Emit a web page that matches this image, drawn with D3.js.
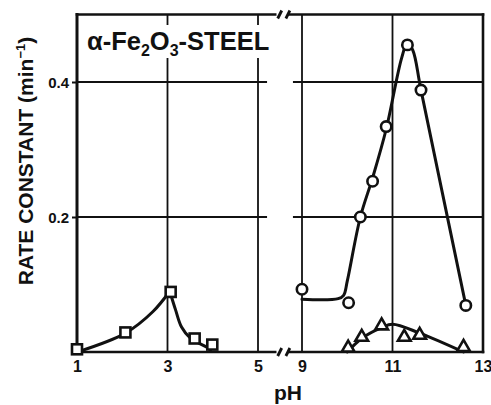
<!DOCTYPE html>
<html>
<head>
<meta charset="utf-8">
<script src="https://cdn.jsdelivr.net/npm/d3@7"></script>
<style>
  html, body { margin: 0; padding: 0; background: #fff; }
  svg { display: block; }
  text { font-family: "Liberation Sans", Arial, sans-serif; font-weight: bold; fill: #111; }
</style>
</head>
<body>
<svg id="chart" width="491" height="405"></svg>
<script>
// Acid range (squares)
const pHSquares = [1.0, 2.07, 3.07, 3.6, 3.99];
const kSquares  = [0.004, 0.029, 0.089, 0.020, 0.011];
// Fitted curve through the acid-range points (rising branch, falling branch)
const fitSqUpPH   = [1.05, 2.07, 2.68, 3.05];
const fitSqUpK    = [0.001, 0.028, 0.060, 0.090];
const fitSqDownPH = [3.05, 3.18, 3.31, 3.5, 3.87, 3.95];
const fitSqDownK  = [0.090, 0.062, 0.037, 0.021, 0.007, 0.003];

// Alkaline range (circles)
const pHCircles = [9.0, 10.03, 10.29, 10.56, 10.86, 11.33, 11.63, 12.62];
const kCircles  = [0.093, 0.073, 0.200, 0.253, 0.334, 0.455, 0.388, 0.069];
const fitCirPH  = [9.0, 9.8, 9.92, 10.0, 10.29, 10.56, 10.86, 11.2, 11.33, 11.45, 11.63, 12.62];
const fitCirK   = [0.078, 0.079, 0.084, 0.105, 0.200, 0.258, 0.330, 0.435, 0.458, 0.447, 0.388, 0.069];

// Alkaline range (triangles)
const pHTriangles = [10.02, 10.32, 10.76, 11.26, 11.6, 12.57];
const kTriangles  = [0.006, 0.022, 0.039, 0.022, 0.025, 0.007];
const fitTriPH = [10.0, 10.32, 10.76, 11.0, 11.6, 12.57];
const fitTriK  = [0.000, 0.020, 0.036, 0.041, 0.028, 0.000];

// Axis ticks
const yTicks = [0.2, 0.4];
const xTicksLow  = [1, 3, 5];
const xTicksHigh = [9, 11, 13];

const svg = d3.select("#chart");

const y = d3.scaleLinear().domain([0, 0.5]).range([352, 14.5]);
const xL = d3.scaleLinear().domain([1, 5]).range([77, 258]);
const xR = d3.scaleLinear().domain([9, 13]).range([302, 483]);

const gridColor = "#111";

// --- Grid lines ---
const grid = svg.append("g").attr("stroke", gridColor).attr("stroke-width", 1.8);
// horizontal
yTicks.forEach(v => {
  grid.append("line").attr("x1", xL(1)).attr("x2", xL(5.2)).attr("y1", y(v)).attr("y2", y(v));
  grid.append("line").attr("x1", xR(8.8)).attr("x2", xR(13)).attr("y1", y(v)).attr("y2", y(v));
});
// vertical
[3, 5].forEach(v => grid.append("line").attr("x1", xL(v)).attr("x2", xL(v)).attr("y1", y(0)).attr("y2", y(0.5)));
[9, 11].forEach(v => grid.append("line").attr("x1", xR(v)).attr("x2", xR(v)).attr("y1", y(0)).attr("y2", y(0.5)));

// --- Frame with axis breaks ---
const frame = svg.append("g").attr("stroke", "#111").attr("stroke-width", 2.6).attr("fill", "none")
  .attr("stroke-linecap", "square");
[0, 0.5].forEach(v => {
  frame.append("line").attr("x1", xL(1)).attr("x2", xL(5.38)).attr("y1", y(v)).attr("y2", y(v));
  frame.append("line").attr("x1", xR(8.7)).attr("x2", xR(13)).attr("y1", y(v)).attr("y2", y(v));
  // break marks "//"
  const bx = [xL(5.48), xL(5.66)];
  bx.forEach(cx => {
    frame.append("line").attr("x1", cx - 2).attr("x2", cx + 2)
      .attr("y1", y(v) + 4).attr("y2", y(v) - 4).attr("stroke-width", 2.8).attr("stroke-linecap", "butt");
  });
});
frame.append("line").attr("x1", xL(1)).attr("x2", xL(1)).attr("y1", y(0)).attr("y2", y(0.5)).attr("stroke-width", 3);
frame.append("line").attr("x1", xR(13)).attr("x2", xR(13)).attr("y1", y(0)).attr("y2", y(0.5));

// --- Y axis ticks and labels ---
const yAxis = d3.axisLeft(y).tickValues(yTicks).tickSize(5).tickPadding(3).tickFormat(d3.format(".1f"));
const gy = svg.append("g").attr("transform", `translate(${xL(1)},0)`).call(yAxis);
gy.select(".domain").remove();
gy.selectAll(".tick line").attr("stroke", "#111").attr("stroke-width", 2);
gy.selectAll(".tick text").attr("font-size", 15).attr("font-family", "Liberation Sans, Arial, sans-serif")
  .attr("font-weight", "bold").attr("fill", "#111").attr("dy", "0.35em");

// --- X axis labels ---
function xAxisFor(scale, ticks) {
  const ax = d3.axisBottom(scale).tickValues(ticks).tickSize(0).tickPadding(9).tickFormat(d3.format("d"));
  const g = svg.append("g").attr("transform", `translate(0,${y(0)})`).call(ax);
  g.select(".domain").remove();
  g.selectAll(".tick text").attr("font-size", 16).attr("font-family", "Liberation Sans, Arial, sans-serif")
    .attr("font-weight", "bold").attr("fill", "#111");
}
xAxisFor(xL, xTicksLow);
xAxisFor(xR, xTicksHigh);

// --- Axis titles ---
svg.append("text").attr("x", 288).attr("y", 400).attr("text-anchor", "middle")
  .attr("font-size", 21).text("pH");

const yt = svg.append("text")
  .attr("transform", "translate(33,161) rotate(-90)")
  .attr("text-anchor", "middle").attr("font-size", 21);
yt.append("tspan").text("RATE CONSTANT (min");
yt.append("tspan").attr("font-size", 13).attr("dy", -8).text("−1");
yt.append("tspan").attr("dy", 8).text(")");

// --- Title box ---
svg.append("rect").attr("x", 82).attr("y", 25).attr("width", 194).attr("height", 33).attr("fill", "#fff");
const title = svg.append("text").attr("x", 87).attr("y", 50).attr("font-size", 25.5);
title.append("tspan").text("α-Fe");
title.append("tspan").attr("font-size", 16).attr("dy", 6).text("2");
title.append("tspan").attr("dy", -6).text("O");
title.append("tspan").attr("font-size", 16).attr("dy", 6).text("3");
title.append("tspan").attr("dy", -6).text("-STEEL");

// --- Fitted curves ---
const lineL = d3.line().x(d => xL(d[0])).y(d => y(d[1])).curve(d3.curveCatmullRom.alpha(0.5));
const lineR = d3.line().x(d => xR(d[0])).y(d => y(d[1])).curve(d3.curveCatmullRom.alpha(0.5));
const curves = svg.append("g").attr("fill", "none").attr("stroke", "#111").attr("stroke-width", 3)
  .attr("stroke-linejoin", "round").attr("stroke-linecap", "round");
curves.append("path").attr("d", lineL(d3.zip(fitSqUpPH, fitSqUpK)));
curves.append("path").attr("d", lineL(d3.zip(fitSqDownPH, fitSqDownK)));
curves.append("path").attr("d", lineR(d3.zip(fitCirPH, fitCirK)));
curves.append("path").attr("d", lineR(d3.zip(fitTriPH, fitTriK)));

// --- Markers ---
const marks = svg.append("g").attr("fill", "#fff").attr("stroke", "#111").attr("stroke-width", 2.6);
const sq = 10;
marks.selectAll("rect.sq").data(d3.zip(pHSquares, kSquares)).join("rect")
  .attr("x", d => xL(d[0]) - sq / 2).attr("y", d => y(d[1]) - sq / 2)
  .attr("width", sq).attr("height", sq);
marks.selectAll("circle.c").data(d3.zip(pHCircles, kCircles)).join("circle")
  .attr("cx", d => xR(d[0])).attr("cy", d => y(d[1])).attr("r", 5.2);
const tri = d3.symbol().type(d3.symbolTriangle).size(70);
marks.selectAll("path.t").data(d3.zip(pHTriangles, kTriangles)).join("path")
  .attr("transform", d => `translate(${xR(d[0])},${y(d[1])})`).attr("d", tri);
</script>
</body>
</html>
